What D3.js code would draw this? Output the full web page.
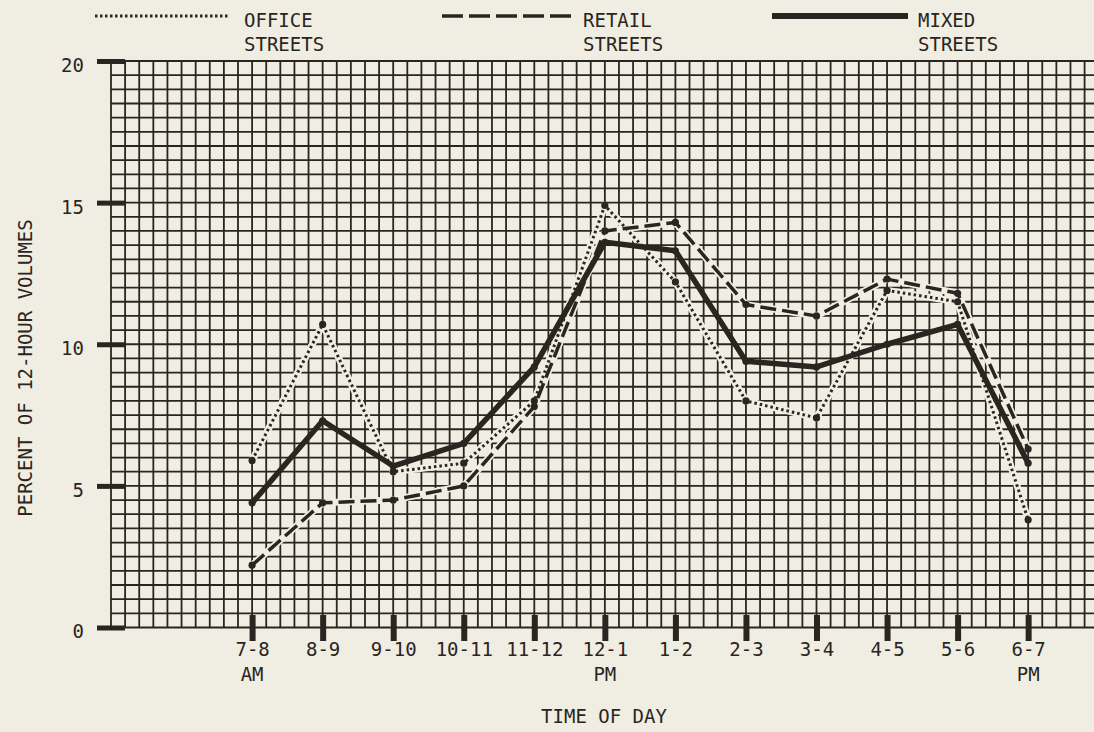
<!DOCTYPE html>
<html>
<head>
<meta charset="utf-8">
<script src="https://cdn.jsdelivr.net/npm/d3@7/dist/d3.min.js"></script>
<style>
  html, body { margin: 0; padding: 0; background: #f0ede3; }
  svg { display: block; }
  text { font-family: "DejaVu Sans Mono", monospace; fill: #2a2520; }
</style>
</head>
<body>
<svg id="chart" width="1094" height="732"></svg>
<script>
// ---- data ----
const categories = ["7-8", "8-9", "9-10", "10-11", "11-12", "12-1", "1-2", "2-3", "3-4", "4-5", "5-6", "6-7"];
const subLabels  = ["AM", "", "", "", "", "PM", "", "", "", "", "", "PM"];
const officeStreets = [5.9, 10.7, 5.5, 5.8, 8.0, 14.9, 12.2, 8.0, 7.4, 11.9, 11.5, 3.8];
const retailStreets = [2.2, 4.4, 4.5, 5.0, 7.8, 14.0, 14.3, 11.4, 11.0, 12.3, 11.8, 6.3];
const mixedStreets  = [4.4, 7.3, 5.7, 6.5, 9.2, 13.6, 13.3, 9.4, 9.2, 10.0, 10.7, 5.8];
const yTicks = [0, 5, 10, 15, 20];
const legendNames = [["OFFICE", "STREETS"], ["RETAIL", "STREETS"], ["MIXED", "STREETS"]];

const ink = "#2a2520";
const paper = "#f0ede3";
const fs = 19;
const svg = d3.select("#chart");

// scales: category index -> x ; grid starts two categories left of "7-8"
const x = d3.scaleLinear().domain([-2, 12]).range([111, 1098.7]);
const y = d3.scaleLinear().domain([0, 20]).range([627.5, 61]);

// ---- grid ----
const grid = svg.append("g");
const xGrid = d3.range(-2, 12.0001, 0.2);
const yGrid = d3.range(0, 20.0001, 0.5);
grid.selectAll("line.v").data(xGrid).join("line")
  .attr("x1", d => x(d)).attr("x2", d => x(d))
  .attr("y1", y(20)).attr("y2", y(0))
  .attr("stroke", ink).attr("stroke-width", 1.8);
grid.selectAll("line.h").data(yGrid).join("line")
  .attr("x1", x(-2)).attr("x2", 1094)
  .attr("y1", d => y(d)).attr("y2", d => y(d))
  .attr("stroke", ink).attr("stroke-width", 1.8);

// ---- axes ----
const yAxis = svg.append("g").attr("transform", "translate(125,0)")
  .call(d3.axisLeft(y).tickValues(yTicks).tickSize(28).tickPadding(13).tickFormat(d3.format("d")));
yAxis.select(".domain").remove();
yAxis.selectAll(".tick line").attr("stroke", ink).attr("stroke-width", 5);
yAxis.selectAll(".tick text").attr("font-size", fs).attr("dy", "0.55em")
  .style("font-family", "DejaVu Sans Mono").attr("fill", ink);

const xAxis = svg.append("g").attr("transform", "translate(0,615)")
  .call(d3.axisBottom(x).tickValues(d3.range(categories.length)).tickSize(26).tickPadding(2)
    .tickFormat(i => categories[i]));
xAxis.select(".domain").remove();
xAxis.selectAll(".tick line").attr("stroke", ink).attr("stroke-width", 6);
xAxis.selectAll(".tick text").attr("font-size", fs)
  .style("font-family", "DejaVu Sans Mono").attr("fill", ink);

svg.append("g").selectAll("text").data(subLabels.map((s, i) => ({ s, i })).filter(d => d.s))
  .join("text")
  .attr("x", d => x(d.i)).attr("y", 681)
  .attr("text-anchor", "middle").attr("font-size", fs)
  .text(d => d.s);

// axis titles
svg.append("text").attr("x", 604).attr("y", 723).attr("text-anchor", "middle")
  .attr("font-size", fs).text("TIME OF DAY");
svg.append("text").attr("transform", "translate(32,368) rotate(-90)")
  .attr("text-anchor", "middle").attr("font-size", fs).text("PERCENT OF 12-HOUR VOLUMES");

// ---- series ----
const styles = [
  { data: officeStreets, width: 3, dash: "2.5,3", legendDash: "2.5,2.5", halo: 7 },
  { data: retailStreets, width: 3.5, dash: "16,6", legendDash: "21,6", halo: 7 },
  { data: mixedStreets, width: 5.5, dash: null, legendDash: null, halo: 0 }
];
const line = d3.line().x((d, i) => x(i)).y(d => y(d));
const seriesG = svg.append("g");
styles.forEach(s => {
  if (s.halo) {
    seriesG.append("path").attr("d", line(s.data)).attr("fill", "none")
      .attr("stroke", paper).attr("stroke-width", s.halo).attr("stroke-linejoin", "round");
  }
});
styles.slice().reverse().forEach(s => {
  seriesG.append("path").attr("d", line(s.data)).attr("fill", "none")
    .attr("stroke", ink).attr("stroke-width", s.width)
    .attr("stroke-dasharray", s.dash)
    .attr("stroke-linejoin", "round");
  seriesG.append("g").selectAll("circle").data(s.data).join("circle")
    .attr("cx", (d, i) => x(i)).attr("cy", d => y(d)).attr("r", 3.6).attr("fill", ink);
});

// ---- legend ----
const legendX = [[95, 230, 244], [442, 575, 583], [772, 908, 918]];
const legend = svg.append("g");
styles.forEach((s, k) => {
  const [x1, x2, tx] = legendX[k];
  legend.append("line").attr("x1", x1).attr("x2", x2).attr("y1", 16).attr("y2", 16)
    .attr("stroke", ink).attr("stroke-width", k === 2 ? 6 : s.width)
    .attr("stroke-dasharray", s.legendDash);
  legend.append("text").attr("x", tx).attr("y", 27).attr("font-size", fs).text(legendNames[k][0]);
  legend.append("text").attr("x", tx).attr("y", 51).attr("font-size", fs).text(legendNames[k][1]);
});
</script>
</body>
</html>
